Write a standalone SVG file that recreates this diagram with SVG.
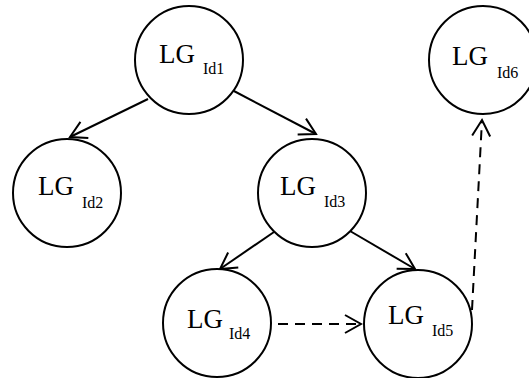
<svg xmlns="http://www.w3.org/2000/svg" width="529" height="378" viewBox="0 0 529 378">
<defs>
<style>
.node circle{fill:#fff;stroke:#000;stroke-width:2}
.lg{font-family:"Liberation Serif","Times New Roman",serif;font-size:27px;fill:#000}
.sub{font-family:"Liberation Serif","Times New Roman",serif;font-size:16px;fill:#000}
.edge{stroke:#000;stroke-width:2;fill:none}
.dash{stroke-dasharray:10 7}
</style>
<marker id="arr" markerUnits="userSpaceOnUse" viewBox="-18 -11 20 22" markerWidth="20" markerHeight="22" refX="0" refY="0" orient="auto">
<path d="M-16,-9 L0,0 L-16,9" fill="none" stroke="#000" stroke-width="2"/>
</marker>
</defs>
<g id="connectors">
<line class="edge" x1="148" y1="99" x2="70" y2="137" marker-end="url(#arr)"/>
<line class="edge" x1="232" y1="90" x2="316" y2="134" marker-end="url(#arr)"/>
<line class="edge" x1="274" y1="232" x2="220" y2="269" marker-end="url(#arr)"/>
<line class="edge" x1="350" y1="231" x2="415" y2="269" marker-end="url(#arr)"/>
<line class="edge dash" x1="278" y1="324" x2="361" y2="324" marker-end="url(#arr)"/>
<line class="edge dash" x1="472" y1="310" x2="482" y2="120" marker-end="url(#arr)"/>
</g>
<g id="id1" class="node">
<circle cx="189" cy="60" r="54"/>
<text class="lg" x="159" y="63">LG</text><text class="sub" x="203" y="74">Id1</text>
</g>
<g id="id2" class="node">
<circle cx="67" cy="193" r="54"/>
<text class="lg" x="38" y="195">LG</text><text class="sub" x="82" y="208">Id2</text>
</g>
<g id="id3" class="node">
<circle cx="312" cy="193" r="54"/>
<text class="lg" x="280" y="195">LG</text><text class="sub" x="324" y="207">Id3</text>
</g>
<g id="id4" class="node">
<circle cx="217" cy="323" r="54"/>
<text class="lg" x="187" y="328">LG</text><text class="sub" x="229" y="339">Id4</text>
</g>
<g id="id5" class="node">
<circle cx="418" cy="324" r="54"/>
<text class="lg" x="388" y="324">LG</text><text class="sub" x="432" y="336">Id5</text>
</g>
<g id="id6" class="node">
<circle cx="483" cy="60" r="54"/>
<text class="lg" x="452" y="65">LG</text><text class="sub" x="497" y="78">Id6</text>
</g>
</svg>
